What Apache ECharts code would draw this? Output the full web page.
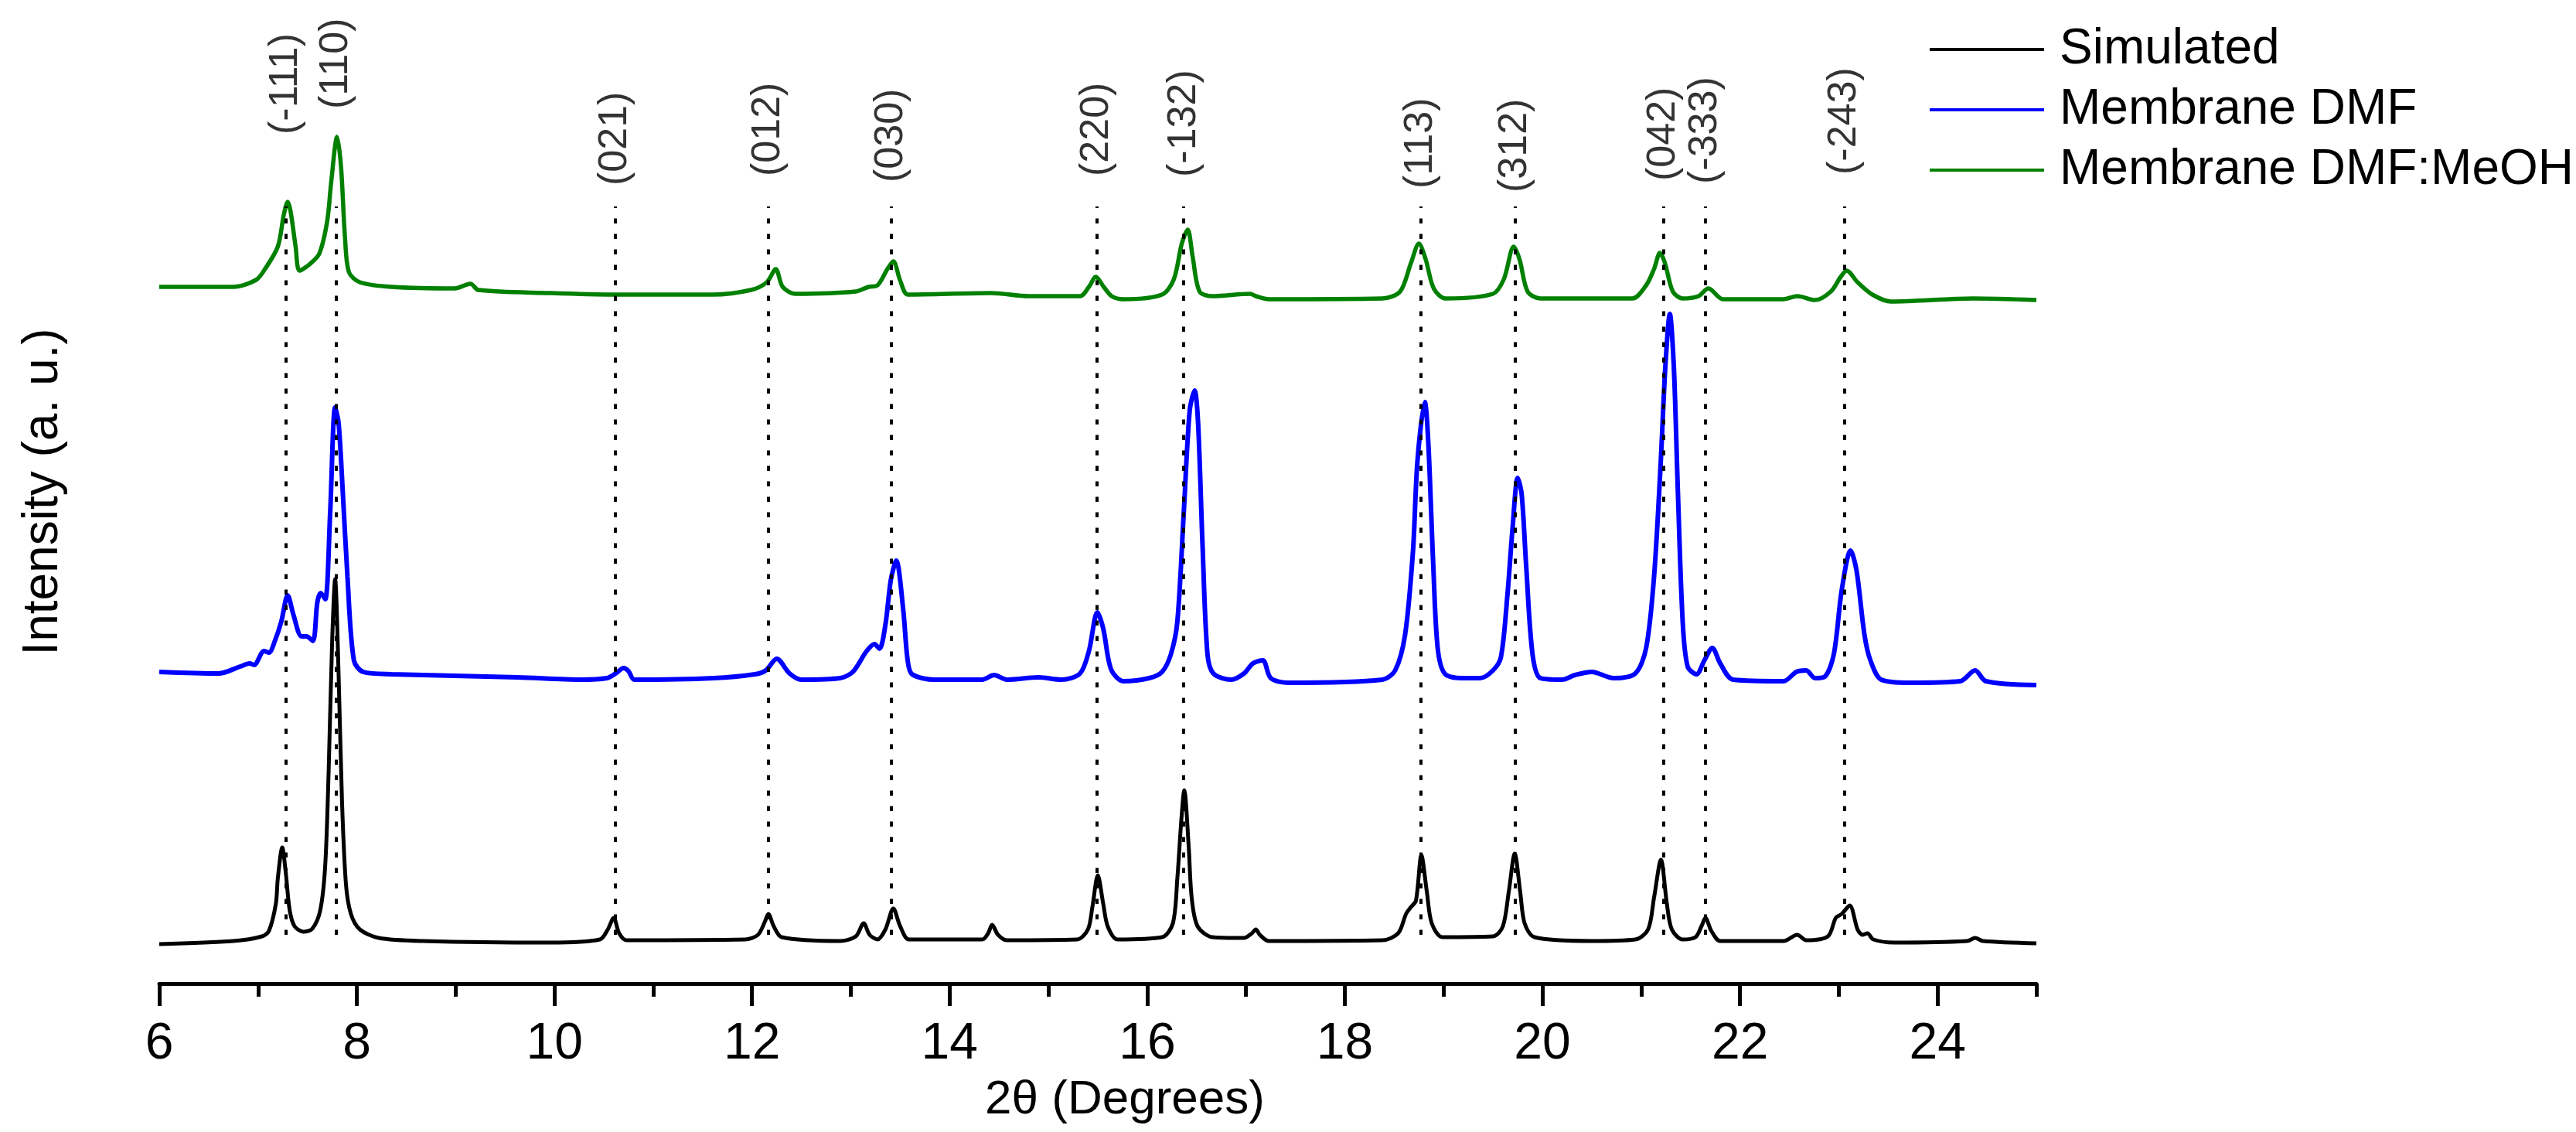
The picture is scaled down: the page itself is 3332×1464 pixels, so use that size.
<!DOCTYPE html>
<html>
<head>
<meta charset="utf-8">
<title>XRD patterns</title>
<script src="https://cdn.jsdelivr.net/npm/echarts@6/dist/echarts.min.js"></script>
<style>
  html, body { margin: 0; padding: 0; background: #fff; }
  #chart { width: 3332px; height: 1464px; }
</style>
</head>
<body>
<div id="chart"></div>
<script>
// 2theta (degrees), intensity in arbitrary units (curves are offset vertically)
const simulated = [
  [6.0,5.1],[6.75,5.5],[7.04,6.1],[7.11,6.8],[7.18,10.3],[7.2,13.6],[7.245,17.6],[7.28,14.4],[7.32,9.5],[7.37,7.4],
  [7.46,6.7],[7.55,7.1],[7.63,9.5],[7.68,15.3],[7.715,27.7],[7.75,44.3],[7.78,52.3],[7.815,40.1],[7.85,23.5],[7.89,12.8],
  [7.94,9.0],[8.03,7.0],[8.22,5.9],[8.67,5.5],[9.95,5.3],[10.46,5.7],[10.54,7.0],[10.6,8.5],[10.655,6.5],[10.73,5.6],
  [11.93,5.7],[12.06,6.3],[12.13,8.0],[12.165,9.0],[12.22,7.4],[12.3,6.0],[12.89,5.5],[13.05,6.1],[13.13,7.8],[13.19,6.3],
  [13.27,5.7],[13.35,7.0],[13.43,9.7],[13.5,7.4],[13.59,5.7],[14.33,5.7],[14.39,6.5],[14.43,7.6],[14.49,6.3],[14.58,5.6],
  [15.29,5.7],[15.4,7.0],[15.445,9.9],[15.5,14.0],[15.555,10.3],[15.6,7.4],[15.7,5.7],[16.15,6.0],[16.26,7.8],[16.305,13.6],
  [16.345,21.1],[16.375,25.0],[16.42,17.7],[16.45,11.1],[16.51,7.4],[16.66,6.0],[16.9,5.9],[16.98,5.9],[17.06,6.5],[17.1,7.0],[17.14,6.3],
  [17.23,5.5],[18.38,5.6],[18.54,6.5],[18.62,9.0],[18.67,9.9],[18.72,10.7],[18.775,16.6],[18.83,11.9],[18.88,7.8],[18.99,6.0],
  [19.5,6.1],[19.6,7.4],[19.66,11.9],[19.72,16.8],[19.775,11.9],[19.82,7.8],[19.92,6.0],[20.49,5.5],[20.94,5.7],[21.07,7.0],
  [21.13,11.1],[21.2,16.0],[21.26,10.3],[21.31,7.0],[21.42,5.7],[21.55,6.0],[21.61,7.4],[21.65,8.5],[21.71,6.8],[21.8,5.5],
  [22.44,5.5],[22.58,6.3],[22.67,5.6],[22.89,6.1],[22.97,8.5],[23.03,9.0],[23.11,10.1],[23.19,7.0],[23.24,6.3],[23.29,6.5],
  [23.35,5.7],[23.56,5.3],[24.3,5.5],[24.38,5.9],[24.46,5.5],[25.0,5.2]
];

const membraneDMF = [
  [6.0,40.3],[6.6,40.1],[6.82,41.0],[6.915,41.4],[6.96,41.2],[7.06,43.0],[7.11,42.8],[7.17,44.3],[7.235,46.8],[7.3,50.2],
  [7.36,47.6],[7.44,44.9],[7.49,44.9],[7.555,44.3],[7.6,49.3],[7.635,50.5],[7.68,49.7],[7.73,60.9],[7.78,74.5],[7.815,72.5],
  [7.855,64.2],[7.905,52.6],[7.97,41.8],[8.065,40.3],[8.35,40.0],[9.63,39.6],[10.27,39.3],[10.53,39.5],[10.62,40.1],[10.7,40.8],
  [10.75,40.4],[10.81,39.3],[11.61,39.5],[12.03,40.0],[12.14,40.5],[12.25,42.0],[12.38,40.1],[12.5,39.3],[12.89,39.5],[13.02,40.3],
  [13.16,43.0],[13.24,43.9],[13.29,43.3],[13.35,46.4],[13.405,52.2],[13.46,54.7],[13.53,48.4],[13.575,41.8],[13.62,40.0],[13.85,39.3],
  [14.33,39.3],[14.45,39.9],[14.58,39.3],[14.9,39.6],[15.13,39.3],[15.32,40.1],[15.41,43.0],[15.495,48.0],[15.555,45.9],[15.635,40.6],
  [15.76,39.1],[16.02,39.5],[16.15,40.3],[16.24,42.6],[16.305,46.8],[16.37,60.9],[16.43,74.1],[16.48,76.7],[16.515,72.5],[16.56,56.7],
  [16.61,42.6],[16.67,40.1],[16.85,39.3],[16.98,40.1],[17.07,41.4],[17.17,41.8],[17.25,39.5],[17.43,38.9],[18.38,39.3],[18.51,40.5],
  [18.61,45.1],[18.69,55.9],[18.735,67.5],[18.81,75.2],[18.845,70.0],[18.895,54.2],[18.94,43.4],[19.01,40.1],[19.18,39.5],[19.37,39.5],
  [19.5,40.5],[19.58,42.2],[19.645,50.1],[19.7,59.2],[19.75,65.4],[19.79,63.3],[19.835,54.2],[19.9,42.6],[19.98,39.5],[20.2,39.3],
  [20.33,39.9],[20.5,40.3],[20.72,39.5],[20.94,40.1],[21.05,43.4],[21.13,52.6],[21.195,66.7],[21.245,79.9],[21.29,86.6],[21.33,79.9],
  [21.37,64.2],[21.42,46.8],[21.47,41.0],[21.56,40.0],[21.64,41.8],[21.72,43.4],[21.8,41.4],[21.93,39.3],[22.44,39.1],[22.57,40.3],
  [22.67,40.5],[22.76,39.5],[22.86,39.7],[22.95,42.6],[23.03,50.9],[23.12,56.0],[23.18,53.4],[23.26,45.1],[23.32,41.8],[23.43,39.3],
  [23.72,38.9],[24.23,39.1],[24.38,40.5],[24.49,39.1],[25.0,38.6]
];

const membraneMeOH = [
  [6.0,90.1],[6.75,90.1],[6.98,91.0],[7.07,92.4],[7.2,95.3],[7.26,99.4],[7.3,101.1],[7.33,99.8],[7.38,95.3],[7.42,92.2],
  [7.52,93.0],[7.62,94.4],[7.7,98.6],[7.74,103.6],[7.8,109.5],[7.84,105.6],[7.88,96.5],[7.92,92.0],[8.03,90.7],[8.35,90.1],
  [8.99,89.9],[9.15,90.5],[9.23,89.7],[9.95,89.3],[10.59,89.1],[11.6,89.1],[11.99,89.7],[12.15,90.7],[12.24,92.4],[12.31,90.1],
  [12.44,89.2],[13.05,89.5],[13.18,90.1],[13.27,90.3],[13.37,92.4],[13.43,93.4],[13.5,90.9],[13.58,89.1],[14.42,89.3],[14.8,88.9],
  [15.32,88.9],[15.41,90.1],[15.48,91.4],[15.56,90.1],[15.64,88.9],[15.76,88.5],[16.15,89.1],[16.27,91.1],[16.35,95.7],[16.41,97.5],
  [16.46,94.0],[16.53,89.5],[16.66,88.9],[17.04,89.2],[17.1,88.9],[17.23,88.5],[18.38,88.6],[18.56,89.5],[18.67,93.2],[18.75,95.7],
  [18.82,93.6],[18.9,89.9],[19.02,88.6],[19.5,89.2],[19.61,91.1],[19.71,95.3],[19.77,93.6],[19.85,89.5],[19.98,88.6],[20.91,88.6],
  [21.05,90.3],[21.13,92.4],[21.19,94.5],[21.24,93.2],[21.32,89.5],[21.42,88.6],[21.58,88.9],[21.68,89.9],[21.83,88.5],[22.44,88.5],
  [22.58,88.9],[22.76,88.4],[22.92,89.5],[23.02,91.4],[23.08,92.2],[23.19,90.7],[23.34,89.1],[23.53,88.2],[24.36,88.6],[25.0,88.4]
];

// reflection indices, their 2theta and where each label starts
const hklNames = ['(-111)','(110)','(021)','(012)','(030)','(220)','(-132)','(113)','(312)','(042)','(-333)','(-243)'];
const hklTheta = [7.28, 7.79, 10.615, 12.166, 13.406, 15.493, 16.37, 18.767, 19.726, 21.228, 21.646, 23.056];
const hklLabelY = [109.8, 113.1, 103.2, 104.4, 103.6, 104.4, 104.3, 102.8, 102.3, 103.8, 103.4, 104.6];
const hklLineBottom = 6.3;
const hklLineTop = 100.5;

const majorTicks = [6, 8, 10, 12, 14, 16, 18, 20, 22, 24];
const minorTicks = [7, 9, 11, 13, 15, 17, 19, 21, 23, 25];

const textFont = 'Liberation Sans, Arial, sans-serif';

const chart = echarts.init(document.getElementById('chart'), null, { renderer: 'canvas' });

const option = {
  animation: false,
  backgroundColor: '#ffffff',
  grid: { left: 206, right: 698, top: 0, bottom: 192 },
  legend: {
    data: ['Simulated', 'Membrane DMF', 'Membrane DMF:MeOH'],
    orient: 'vertical',
    left: 2491,
    top: 27,
    icon: 'rect',
    itemWidth: 148,
    itemHeight: 4,
    itemGap: 14,
    textStyle: { fontFamily: textFont, fontSize: 64, color: '#000', lineHeight: 64, padding: [0, 0, 0, 15] }
  },
  xAxis: [
    {
      type: 'value', min: 6, max: 25, interval: 1,
      position: 'bottom',
      axisLine: { show: true, onZero: false, lineStyle: { color: '#000', width: 5 } },
      axisTick: { show: true, customValues: majorTicks, length: 29, lineStyle: { color: '#000', width: 5 } },
      axisLabel: { show: true, customValues: majorTicks, margin: 46, fontFamily: textFont, fontSize: 66, color: '#000' },
      splitLine: { show: false },
      name: '2θ (Degrees)',
      nameLocation: 'middle',
      nameGap: 120,
      nameTextStyle: { fontFamily: textFont, fontSize: 62, color: '#000', padding: [0, 0, 0, 70] }
    },
    {
      type: 'value', min: 6, max: 25, interval: 1,
      position: 'bottom',
      axisLine: { show: false },
      axisTick: { show: true, customValues: minorTicks, length: 17, lineStyle: { color: '#000', width: 5 } },
      axisLabel: { show: false },
      splitLine: { show: false }
    }
  ],
  yAxis: {
    type: 'value', min: 0, max: 127.2,
    axisLine: { show: false },
    axisTick: { show: false },
    axisLabel: { show: false },
    splitLine: { show: false },
    name: 'Intensity (a. u.)',
    nameLocation: 'middle',
    nameRotate: 90,
    nameGap: 118,
    nameTextStyle: { fontFamily: textFont, fontSize: 64, color: '#000' }
  },
  series: [
    {
      name: 'Simulated', type: 'line', data: simulated,
      showSymbol: false, color: '#000000', smooth: 0.3,
      lineStyle: { color: '#000000', width: 5 }
    },
    {
      name: 'Membrane DMF', type: 'line', data: membraneDMF,
      showSymbol: false, color: '#0000ff', smooth: 0.3,
      lineStyle: { color: '#0000ff', width: 6 }
    },
    {
      name: 'Membrane DMF:MeOH', type: 'line', data: membraneMeOH,
      showSymbol: false, color: '#008000', smooth: 0.3,
      lineStyle: { color: '#008000', width: 5.5 }
    },
    {
      name: 'hkl', type: 'scatter', z: 5,
      symbolSize: 0,
      data: hklTheta.map((t, i) => [t, hklLabelY[i]]),
      label: {
        show: true,
        position: 'inside',
        rotate: 90,
        align: 'left',
        verticalAlign: 'middle',
        fontFamily: textFont,
        fontSize: 52,
        color: '#000',
        formatter: p => hklNames[p.dataIndex]
      },
      markLine: {
        silent: true,
        symbol: 'none',
        z: 6,
        label: { show: false },
        lineStyle: { color: '#000', width: 4, type: [6.5, 13.5] },
        data: hklTheta.map(t => [{ coord: [t, hklLineBottom] }, { coord: [t, hklLineTop] }])
      }
    }
  ]
};

chart.setOption(option);
</script>
</body>
</html>
